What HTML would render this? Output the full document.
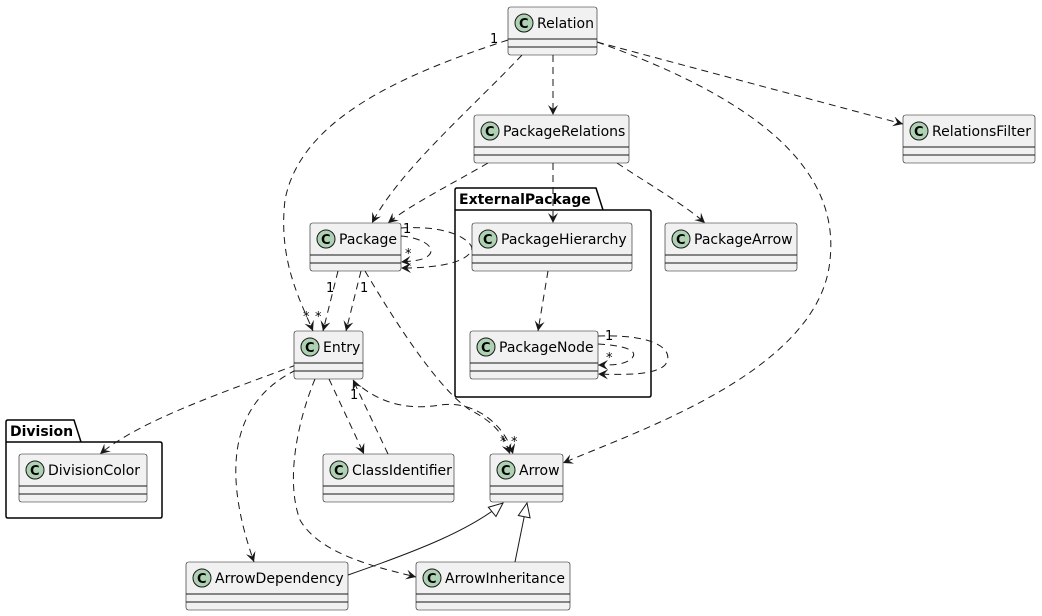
<!DOCTYPE html>
<html><head><meta charset="utf-8"><style>
html,body{margin:0;padding:0;background:#fff}
svg{display:block}
text{font-family:"DejaVu Sans","Liberation Sans",sans-serif;fill:#000}
.b{fill:#F1F1F1;stroke:#181818;stroke-width:0.6}
.d{fill:none;stroke:#181818;stroke-width:1;stroke-dasharray:7,5}
.s{fill:none;stroke:#181818;stroke-width:1}
.c{fill:#ADD1B2;stroke:#181818;stroke-width:1}
.pk{fill:none;stroke:#000;stroke-width:1.5}
</style></head><body>
<svg width="1042" height="616" viewBox="0 0 1042 616" xmlns="http://www.w3.org/2000/svg">
<defs>
<marker id="a" markerWidth="12" markerHeight="10" refX="10" refY="5" orient="auto" markerUnits="userSpaceOnUse">
<path d="M0,0 L10,5 L0,10 L4,5 Z" fill="#181818"/></marker>
<marker id="t" markerWidth="16" markerHeight="14" refX="15" refY="7" orient="auto" markerUnits="userSpaceOnUse">
<path d="M1,1 L15,7 L1,13 Z" fill="#fff" stroke="#181818"/></marker>
</defs>

<path class="pk" d="M455,210 L455,190 Q455,188 457,188 L596,188 L603,210 L649,210 Q651,210 651,212 L651,395 Q651,397 649,397 L457,397 Q455,397 455,395 Z M455,210 L603,210"/>
<text x="459" y="204" font-size="14" font-weight="bold">ExternalPackage</text>
<path class="pk" d="M6,442 L6,422 Q6,420 8,420 L74,420 L81,442 L160,442 Q162,442 162,444 L162,516 Q162,518 160,518 L8,518 Q6,518 6,516 Z M6,442 L81,442"/>
<text x="10" y="436" font-size="14" font-weight="bold">Division</text>

<path class="d" marker-end="url(#a)" d="M508,40 C400,75 300,120 285,200 C278,260 300,300 313,331"/>
<path class="d" marker-end="url(#a)" d="M522,55 C470,110 400,170 372,223"/>
<path class="d" marker-end="url(#a)" d="M553,55 L553,115"/>
<path class="d" marker-end="url(#a)" d="M597,42 C760,100 840,170 830,260 C820,370 640,430 563,463"/>
<path class="d" marker-end="url(#a)" d="M597,42 L903,124"/>
<path class="d" marker-end="url(#a)" d="M488,163 C450,185 410,205 388,223"/>
<path class="d" marker-end="url(#a)" d="M553,163 L553,223"/>
<path class="d" marker-end="url(#a)" d="M617,163 C650,185 685,205 705,223"/>
<path class="d" marker-end="url(#a)" d="M401,236 C425,238 440,250 425,258 C418,261 410,261 401,262"/>
<path class="d" marker-end="url(#a)" d="M401,228 C450,225 470,240 472,248 C470,262 440,268 401,268"/>
<path class="d" marker-end="url(#a)" d="M338,271 L323,331"/>
<path class="d" marker-end="url(#a)" d="M361,271 L346,331"/>
<path class="d" marker-end="url(#a)" d="M365,271 C400,330 440,390 470,410 C500,425 505,440 510,454"/>
<path class="d" marker-end="url(#a)" d="M548,271 L538,331"/>
<path class="d" marker-end="url(#a)" d="M598,344 C630,346 640,352 630,360 C622,365 612,365 598,365"/>
<path class="d" marker-end="url(#a)" d="M598,336 C660,334 675,352 665,365 C655,375 625,375 598,374"/>
<path class="d" marker-end="url(#a)" d="M296,365 C230,390 140,420 100,454"/>
<path class="d" marker-end="url(#a)" d="M296,370 C225,405 225,480 254,562"/>
<path class="d" marker-end="url(#a)" d="M315,379 C298,420 285,480 300,520 C320,555 380,568 416,577"/>
<path class="d" marker-end="url(#a)" d="M329,379 L364,454"/>
<path class="d" marker-end="url(#a)" d="M388,454 L353,380"/>
<path class="d" marker-end="url(#a)" d="M353,380 C380,405 410,410 440,405 C475,400 505,425 513,454"/>
<path class="s" marker-end="url(#t)" d="M348,575 C420,550 470,530 503,503"/>
<path class="s" marker-end="url(#t)" d="M515,562 L527,503"/>

<g font-size="13">
<text x="490" y="43">1</text>
<text x="303" y="321">*</text>
<text x="403" y="233">1</text>
<text x="405" y="258">*</text>
<text x="326" y="292">1</text>
<text x="315" y="321">*</text>
<text x="360" y="292">1</text>
<text x="605" y="340">1</text>
<text x="606" y="362">*</text>
<text x="350" y="399">1</text>
<text x="500" y="446">*</text>
<text x="511" y="446">*</text>
</g>

<g font-size="14">
<g><rect class="b" x="508" y="7" width="89" height="48" rx="2.5"/><path class="s" d="M508,39H597M508,47H597" stroke-width="0.6"/><circle class="c" cx="524" cy="23" r="9"/><text x="519" y="28" font-size="13" font-weight="bold">C</text><text x="537" y="28">Relation</text></g>
<g><rect class="b" x="474" y="115" width="155" height="48" rx="2.5"/><path class="s" d="M474,147H629M474,155H629" stroke-width="0.6"/><circle class="c" cx="490" cy="131" r="9"/><text x="485" y="136" font-size="13" font-weight="bold">C</text><text x="503" y="136">PackageRelations</text></g>
<g><rect class="b" x="903" y="115" width="132" height="48" rx="2.5"/><path class="s" d="M903,147H1035M903,155H1035" stroke-width="0.6"/><circle class="c" cx="919" cy="131" r="9"/><text x="914" y="136" font-size="13" font-weight="bold">C</text><text x="932" y="136">RelationsFilter</text></g>
<g><rect class="b" x="310" y="223" width="91" height="48" rx="2.5"/><path class="s" d="M310,255H401M310,263H401" stroke-width="0.6"/><circle class="c" cx="326" cy="239" r="9"/><text x="321" y="244" font-size="13" font-weight="bold">C</text><text x="339" y="244">Package</text></g>
<g><rect class="b" x="472" y="223" width="160" height="48" rx="2.5"/><path class="s" d="M472,255H632M472,263H632" stroke-width="0.6"/><circle class="c" cx="488" cy="239" r="9"/><text x="483" y="244" font-size="13" font-weight="bold">C</text><text x="501" y="244">PackageHierarchy</text></g>
<g><rect class="b" x="665" y="223" width="132" height="48" rx="2.5"/><path class="s" d="M665,255H797M665,263H797" stroke-width="0.6"/><circle class="c" cx="681" cy="239" r="9"/><text x="676" y="244" font-size="13" font-weight="bold">C</text><text x="694" y="244">PackageArrow</text></g>
<g><rect class="b" x="470" y="331" width="128" height="48" rx="2.5"/><path class="s" d="M470,363H598M470,371H598" stroke-width="0.6"/><circle class="c" cx="486" cy="347" r="9"/><text x="481" y="352" font-size="13" font-weight="bold">C</text><text x="499" y="352">PackageNode</text></g>
<g><rect class="b" x="294" y="331" width="69" height="48" rx="2.5"/><path class="s" d="M294,363H363M294,371H363" stroke-width="0.6"/><circle class="c" cx="310" cy="347" r="9"/><text x="305" y="352" font-size="13" font-weight="bold">C</text><text x="323" y="352">Entry</text></g>
<g><rect class="b" x="19" y="454" width="128" height="48" rx="2.5"/><path class="s" d="M19,486H147M19,494H147" stroke-width="0.6"/><circle class="c" cx="35" cy="470" r="9"/><text x="30" y="475" font-size="13" font-weight="bold">C</text><text x="48" y="475">DivisionColor</text></g>
<g><rect class="b" x="323" y="454" width="131" height="48" rx="2.5"/><path class="s" d="M323,486H454M323,494H454" stroke-width="0.6"/><circle class="c" cx="339" cy="470" r="9"/><text x="334" y="475" font-size="13" font-weight="bold">C</text><text x="352" y="475">ClassIdentifier</text></g>
<g><rect class="b" x="490" y="454" width="73" height="48" rx="2.5"/><path class="s" d="M490,486H563M490,494H563" stroke-width="0.6"/><circle class="c" cx="506" cy="470" r="9"/><text x="501" y="475" font-size="13" font-weight="bold">C</text><text x="519" y="475">Arrow</text></g>
<g><rect class="b" x="186" y="562" width="162" height="48" rx="2.5"/><path class="s" d="M186,594H348M186,602H348" stroke-width="0.6"/><circle class="c" cx="202" cy="578" r="9"/><text x="197" y="583" font-size="13" font-weight="bold">C</text><text x="215" y="583">ArrowDependency</text></g>
<g><rect class="b" x="416" y="562" width="154" height="48" rx="2.5"/><path class="s" d="M416,594H570M416,602H570" stroke-width="0.6"/><circle class="c" cx="432" cy="578" r="9"/><text x="427" y="583" font-size="13" font-weight="bold">C</text><text x="445" y="583">ArrowInheritance</text></g>
</g>
</svg>
</body></html>
